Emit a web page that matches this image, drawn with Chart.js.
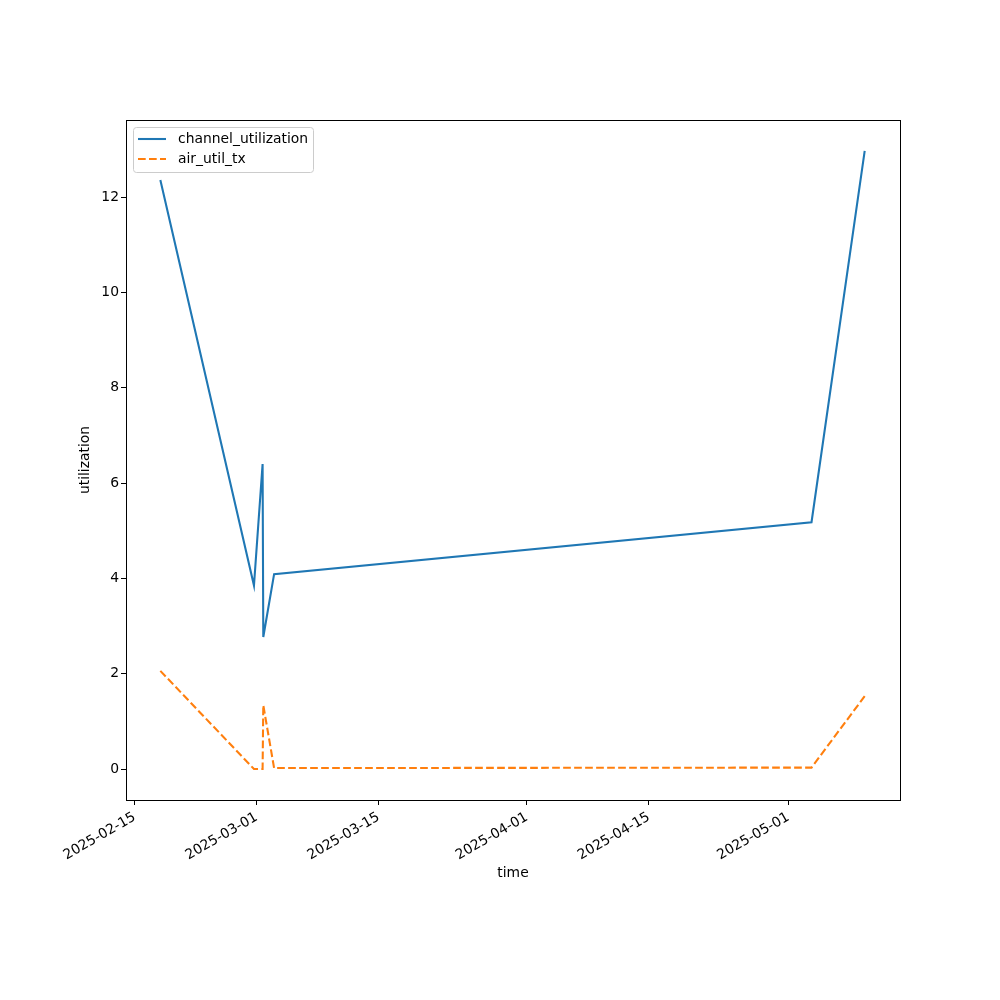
<!DOCTYPE html>
<html>
<head>
<meta charset="utf-8">
<script src="https://cdn.jsdelivr.net/npm/chart.js@4/dist/chart.umd.min.js"></script>
<style>
  html,body{margin:0;padding:0;background:#fff;}
</style>
</head>
<body>
<canvas id="chart" width="1000" height="1000"></canvas>
<script>
// utilization over time, two series
var times=["2025-02-17T22:48","2025-02-28T16:34","2025-03-01T16:19","2025-03-01T18:14","2025-03-03T00:00","2025-05-03T15:36","2025-05-09T18:00"]
var channel_utilization=[12.36,3.85,6.40,2.77,4.09,5.18,12.97]
var air_util_tx=[2.06,0.0,0.0,1.34,0.02,0.03,1.53]
var tickDates=["2025-02-15","2025-03-01","2025-03-15","2025-04-01","2025-04-15","2025-05-01"]

var origin=Date.parse("2025-02-15T00:00:00Z")
function toDays(s){
    if(s.length==10) s+="T00:00"
    return (Date.parse(s+":00Z")-origin)/86400000
}

var xs=times.map(toDays)
var tickDays=tickDates.map(toDays)

var font={family:"'DejaVu Sans'",size:13.9}

const frame={
    id:'frame',
    afterDraw:(chart)=>{
        const {ctx,chartArea}=chart
        ctx.save()
        ctx.strokeStyle='#000'
        ctx.lineWidth=1
        ctx.strokeRect(chartArea.left+0.5,chartArea.top+0.5,chartArea.right-chartArea.left,chartArea.bottom-chartArea.top)

        // legend in the upper left corner, like matplotlib
        const x0=chartArea.left+7, y0=chartArea.top+7
        ctx.fillStyle='rgba(255,255,255,0.8)'
        ctx.strokeStyle='#cccccc'
        ctx.beginPath()
        ctx.roundRect(x0+0.5,y0+0.5,180,45,3)
        ctx.fill()
        ctx.stroke()
        ctx.font="13.9px 'DejaVu Sans'"
        ctx.textBaseline='middle'
        chart.data.datasets.forEach((ds,i)=>{
            const y=y0+12+i*20
            ctx.strokeStyle=ds.borderColor
            ctx.lineWidth=ds.borderWidth
            ctx.setLineDash(ds.borderDash||[])
            ctx.beginPath()
            ctx.moveTo(x0+5,y)
            ctx.lineTo(x0+33,y)
            ctx.stroke()
            ctx.setLineDash([])
            ctx.fillStyle='#000'
            ctx.fillText(ds.label,x0+45,y)
        })
        ctx.restore()
    }
}

var chart=new Chart(document.getElementById('chart'),{
    type:'line',
    data:{
        datasets:[{
            label:'channel_utilization',
            data:xs.map((x,i)=>({x:x,y:channel_utilization[i]})),
            borderColor:'#1f77b4',
            backgroundColor:'#1f77b4',
            borderWidth:2.08,
            pointRadius:0,
            tension:0,
            fill:false
        },{
            label:'air_util_tx',
            data:xs.map((x,i)=>({x:x,y:air_util_tx[i]})),
            borderColor:'#ff7f0e',
            backgroundColor:'#ff7f0e',
            borderWidth:2.08,
            borderDash:[7.7,3.3],
            pointRadius:0,
            tension:0,
            fill:false
        }]
    },
    options:{
        responsive:false,
        animation:false,
        layout:{padding:{left:0,right:100,top:120,bottom:0}},
        plugins:{
            tooltip:{enabled:false},
            legend:{display:false}
        },
        scales:{
            x:{
                type:'linear',
                min:-0.99,
                max:87.8,
                afterBuildTicks:(axis)=>{axis.ticks=tickDays.map(v=>({value:v}))},
                afterFit:(axis)=>{axis.height=200},
                ticks:{
                    font:font,
                    color:'#000',
                    minRotation:30,
                    maxRotation:30,
                    padding:4,
                    callback:(v)=>{
                        var i=tickDays.indexOf(v)
                        return i>=0?tickDates[i]:''
                    }
                },
                grid:{display:true,drawOnChartArea:false,drawTicks:true,tickLength:5,color:'#000'},
                border:{display:true,color:'#000'},
                title:{display:true,text:'time',font:font,color:'#000',padding:{top:0,bottom:118}}
            },
            y:{
                min:-0.65,
                max:13.62,
                afterBuildTicks:(axis)=>{axis.ticks=[0,2,4,6,8,10,12].map(v=>({value:v}))},
                afterFit:(axis)=>{axis.width=126},
                ticks:{font:font,color:'#000',padding:2},
                grid:{display:true,drawOnChartArea:false,drawTicks:true,tickLength:5,color:'#000'},
                border:{display:true,color:'#000'},
                title:{display:true,text:'utilization',font:font,color:'#000',padding:{top:77,bottom:0}}
            }
        }
    },
    plugins:[frame]
})
</script>
</body>
</html>
